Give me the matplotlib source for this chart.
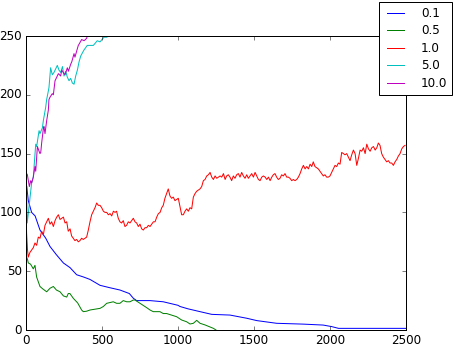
import matplotlib
matplotlib.use('Agg')
import matplotlib.pyplot as plt

# values
x_01 = [0, 5, 15, 37, 60, 92, 130, 158, 200, 246, 290, 333, 380, 421, 487, 550, 618, 680, 706, 728,
        816, 903, 1000, 1013, 1066, 1145, 1222, 1342, 1452, 1518, 1649, 1824, 1955, 2011, 2056, 2500]
y_01 = [125, 122, 110, 100, 97, 85, 78, 71, 64, 57, 53, 47, 45, 43, 38, 36, 34, 31, 27, 25,
        25, 24, 21, 20, 18, 15.6, 13.3, 12.7, 10, 8, 5.7, 5, 4.2, 2.9, 1.4, 1.4]

x_05 = [0, 4, 10, 15, 30, 48, 59, 70, 92, 110, 136, 158, 180, 200, 224, 246, 268, 278, 289, 311,
        340, 366, 377, 399, 421, 487, 509, 531, 574, 596, 618, 640, 662, 684, 706, 717, 750,
        794, 816, 837, 881, 903, 925, 991, 1024, 1057, 1079, 1101, 1123, 1145, 1178, 1233, 1250]
y_05 = [140, 62, 60, 57, 56, 52, 55, 45, 37, 35, 32.5, 35.5, 37, 34, 32.5, 29, 28, 31, 31, 27,
        23, 17, 15.6, 16, 17, 18.4, 20, 22.7, 24, 22.7, 22.7, 25, 24, 24, 25.5, 25.5, 22.7,
        19, 17, 15.6, 15.6, 14, 14, 11.3, 8.5, 7, 5.1, 5.7, 8.2, 5.7, 4.3, 1.4, 0]

# 1.0 series as (step, value) pairs
pts_10 = [(0, 100), (4, 82), (10, 68), (15, 62), (26, 66), (37, 68), (48, 70), (59, 74), (70, 72),
          (81, 79), (92, 78), (103, 84), (114, 81), (125, 89), (136, 92), (147, 95), (158, 90),
          (169, 92), (180, 88), (191, 93), (202, 96), (213, 98), (224, 94), (235, 95), (246, 96),
          (257, 91), (268, 92), (278, 84), (290, 86), (300, 80), (311, 78), (322, 76), (333, 77),
          (344, 75), (355, 76), (366, 78), (377, 77), (388, 78), (399, 79), (410, 85), (421, 92),
          (432, 98), (443, 101), (454, 104), (465, 108), (476, 106), (487, 106), (498, 104),
          (509, 101), (520, 100), (531, 100), (542, 98), (553, 99), (564, 97), (575, 101),
          (586, 100), (596, 101), (607, 95), (618, 92), (629, 91), (640, 93), (651, 88), (662, 89),
          (673, 92), (684, 91), (695, 93), (706, 95), (717, 92), (728, 91), (739, 88), (750, 90),
          (761, 86), (772, 85), (783, 87), (794, 87), (805, 89), (816, 88), (827, 90), (838, 92),
          (849, 92), (860, 96), (871, 99), (882, 100), (893, 104), (903, 106), (914, 112),
          (925, 116), (936, 120), (947, 114), (958, 112), (969, 113), (980, 110), (991, 111),
          (1002, 112), (1013, 105), (1024, 98), (1035, 98), (1046, 101), (1057, 103), (1068, 101),
          (1079, 104), (1090, 103), (1101, 113), (1112, 116), (1123, 118), (1134, 119),
          (1145, 120), (1156, 122), (1167, 127), (1178, 128), (1189, 131), (1200, 132),
          (1211, 134), (1222, 130), (1233, 128), (1244, 131), (1255, 129), (1266, 130),
          (1277, 131), (1288, 130), (1299, 133), (1310, 128), (1320, 131), (1331, 132),
          (1342, 130), (1353, 127), (1364, 131), (1375, 129), (1386, 132), (1397, 133),
          (1408, 130), (1419, 134), (1430, 131), (1441, 129), (1452, 132), (1463, 129),
          (1474, 131), (1485, 133), (1496, 130), (1507, 134), (1518, 131), (1529, 128),
          (1540, 127), (1551, 130), (1562, 131), (1573, 130), (1584, 128), (1595, 130),
          (1606, 127), (1617, 130), (1627, 132), (1638, 133), (1649, 130), (1660, 128),
          (1671, 129), (1682, 132), (1693, 131), (1704, 133), (1715, 130), (1726, 130),
          (1737, 129), (1748, 127), (1759, 128), (1770, 127), (1781, 128), (1792, 130),
          (1803, 133), (1814, 137), (1825, 140), (1836, 137), (1847, 139), (1858, 137),
          (1869, 141), (1880, 139), (1890, 143), (1901, 139), (1912, 138), (1923, 137),
          (1934, 135), (1945, 133), (1956, 131), (1967, 132), (1978, 130), (1989, 130),
          (2000, 131), (2011, 134), (2022, 137), (2033, 140), (2044, 139), (2055, 142),
          (2066, 141), (2077, 151), (2088, 150), (2099, 149), (2110, 150), (2121, 147),
          (2132, 144), (2143, 149), (2154, 153), (2165, 150), (2176, 140), (2187, 146),
          (2198, 153), (2209, 152), (2220, 155), (2231, 150), (2242, 158), (2253, 154),
          (2264, 152), (2275, 155), (2286, 156), (2297, 153), (2308, 155), (2318, 159),
          (2329, 157), (2340, 150), (2351, 147), (2362, 145), (2373, 143), (2384, 144),
          (2395, 142), (2406, 142), (2417, 140), (2428, 143), (2439, 145), (2450, 148),
          (2461, 150), (2472, 154), (2483, 156), (2494, 157)]
x_10 = [p[0] for p in pts_10]
y_10 = [p[1] for p in pts_10]

x_50 = [0, 4, 8, 15, 26, 37, 48, 64, 70, 86, 92, 108, 114, 129, 136, 151, 162, 173, 184, 195, 206,
        217, 228, 240, 250, 261, 272, 283, 294, 305, 316, 327, 338, 349, 360, 381, 403, 443, 469,
        487, 513, 531, 546, 580]
y_50 = [127, 119, 91, 99, 112, 125, 130, 158, 156, 169.5, 167, 172, 178, 189, 196, 206, 223, 217, 219,
        222, 225, 221, 219, 224, 216, 220, 215, 212, 214, 210, 209, 216, 221, 228, 233, 238, 242,
        242, 246, 245, 249, 249, 250, 255]

x_100 = [0, 4, 9, 22, 31, 37, 48, 59, 64, 75, 86, 92, 97, 103, 114, 118, 125, 136, 147, 151, 158,
         173, 180, 191, 195, 213, 228, 235, 250, 257, 272, 279, 294, 301, 316, 322, 344, 349, 366,
         382, 399, 403, 410, 440]
y_100 = [128, 133, 132, 122, 127, 125, 130, 139, 135, 156, 152, 150, 151, 159, 171, 173, 167, 178,
         187, 196, 198, 201, 200, 212, 213, 218, 216, 221, 218, 217, 223, 220, 226, 228, 235, 232,
         242, 243, 247, 246, 248, 250, 250, 256]

labels = ['0.1', '0.5', '1.0', '5.0', '10.0']

plt.style.use('classic')
fig = plt.figure(figsize=(458 / 72, 350 / 72), dpi=72)
ax = fig.add_axes([26 / 458, 20 / 350, 380 / 458, 294 / 350])

ax.plot(x_01, y_01, 'b', label=labels[0])
ax.plot(x_05, y_05, 'g', label=labels[1])
ax.plot(x_10, y_10, 'r', label=labels[2])
ax.plot(x_50, y_50, 'c', label=labels[3])
ax.plot(x_100, y_100, 'm', label=labels[4])

ax.set_xlim(0, 2500)
ax.set_ylim(0, 250)
ax.set_xticks([0, 500, 1000, 1500, 2000, 2500])
ax.set_yticks([0, 50, 100, 150, 200, 250])
ax.tick_params(labelsize=12)

fig.legend(loc='upper right', bbox_to_anchor=(452 / 458, 348 / 350), borderaxespad=0,
           fontsize=12, handlelength=2.0, handletextpad=1.1, labelspacing=0.38)

fig.savefig('out.png', dpi=72)
